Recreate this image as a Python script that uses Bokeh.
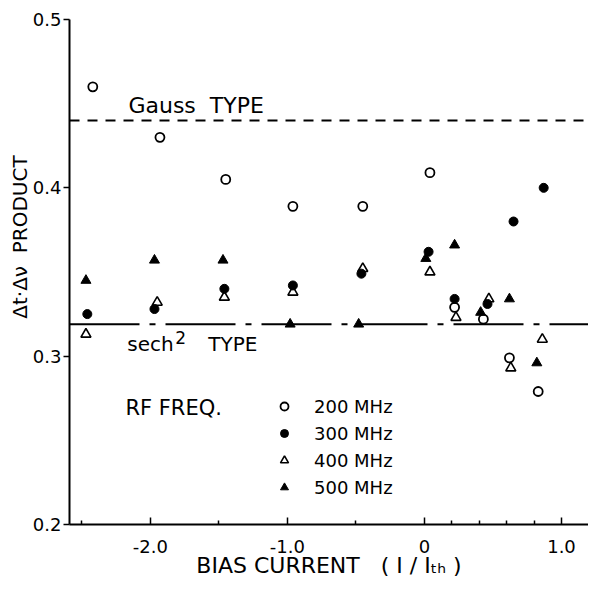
from bokeh.plotting import figure
from bokeh.models import Span, Label, Legend, LegendItem, FixedTicker, Range1d, PrintfTickFormatter
from bokeh.embed import file_html
from bokeh.resources import INLINE

# ---- data ----
x_200 = [-2.42, -1.93, -1.45, -0.96, -0.45, 0.04, 0.22, 0.43, 0.62, 0.83]
y_200 = [0.460, 0.430, 0.405, 0.389, 0.389, 0.409, 0.329, 0.322, 0.299, 0.279]

x_300 = [-2.46, -1.97, -1.46, -0.96, -0.46, 0.03, 0.22, 0.46, 0.65, 0.87]
y_300 = [0.325, 0.328, 0.340, 0.342, 0.349, 0.362, 0.334, 0.331, 0.380, 0.400]

x_400 = [-2.47, -1.95, -1.46, -0.96, -0.45, 0.04, 0.23, 0.47, 0.63, 0.86]
y_400 = [0.313, 0.332, 0.335, 0.338, 0.352, 0.350, 0.323, 0.334, 0.293, 0.310]

x_500 = [-2.47, -1.97, -1.47, -0.98, -0.48, 0.01, 0.22, 0.41, 0.62, 0.82]
y_500 = [0.345, 0.357, 0.357, 0.319, 0.319, 0.358, 0.366, 0.326, 0.334, 0.296]

series_labels = ["200 MHz", "300 MHz", "400 MHz", "500 MHz"]

gauss_level = 0.440
sech_level = 0.319

x_major_ticks = [-2, -1, 0, 1]
x_minor_ticks = [-2.5, -1.5, -0.5, 0.2, 0.4, 0.6, 0.8]
y_major_ticks = [0.2, 0.3, 0.4, 0.5]

FONT = "DejaVu Sans"
NB = "\u00a0"

p = figure(width=588, height=588,
           x_range=Range1d(-2.59, 1.197), y_range=Range1d(0.2, 0.5),
           toolbar_location=None, output_backend="svg",
           min_border_left=69, min_border_right=0, min_border_top=19, min_border_bottom=64)
p.outline_line_color = None
p.grid.visible = False
p.background_fill_color = "white"
p.border_fill_color = "white"

# x axis
xa = p.xaxis[0]
xa.ticker = FixedTicker(ticks=x_major_ticks, minor_ticks=x_minor_ticks)
xa.formatter = PrintfTickFormatter(format="%.1f")
xa.major_label_overrides = {0: "0"}
xa.major_tick_in = 7
xa.major_tick_out = 0
xa.minor_tick_in = 4
xa.minor_tick_out = 0
xa.axis_line_width = 2
xa.major_tick_line_width = 1.5
xa.minor_tick_line_width = 1.5
xa.major_label_standoff = 15
xa.major_label_text_font = FONT
xa.major_label_text_font_size = "18px"
xa.major_label_text_color = "black"
xa.axis_label = "BIAS" + NB + "CURRENT" + NB * 3 + "(" + NB + "I" + NB + "/" + NB + "I\u209c\u2095" + NB + ")"
xa.axis_label_standoff = -3
xa.axis_label_text_font = FONT
xa.axis_label_text_font_size = "22px"
xa.axis_label_text_font_style = "normal"
xa.axis_label_text_color = "black"

# y axis
ya = p.yaxis[0]
ya.ticker = FixedTicker(ticks=y_major_ticks, minor_ticks=[])
ya.formatter = PrintfTickFormatter(format="%.1f")
ya.major_tick_in = 0
ya.major_tick_out = 6
ya.axis_line_width = 2
ya.major_tick_line_width = 1.5
ya.major_label_standoff = 2
ya.major_label_text_font = FONT
ya.major_label_text_font_size = "18px"
ya.major_label_text_color = "black"
ya.axis_label = NB * 11 + "\u0394t\u00b7\u0394\u03bd" + NB * 2 + "PRODUCT"
ya.axis_label_standoff = -2
ya.axis_label_text_font = FONT
ya.axis_label_text_font_size = "20px"
ya.axis_label_text_font_style = "normal"
ya.axis_label_text_color = "black"

# reference levels
p.add_layout(Span(location=gauss_level, dimension="width", line_color="black",
                  line_width=2, line_dash="10 8"))
p.add_layout(Span(location=sech_level, dimension="width", line_color="black",
                  line_width=2, line_dash="70 10 6 10"))

# data points
r200 = p.scatter(x_200, y_200, marker="circle", size=9, fill_color="white",
                 line_color="black", line_width=1.8)
r400 = p.scatter(x_400, y_400, marker="triangle", size=10, fill_color="white",
                 line_color="black", line_width=1.6)
r300 = p.scatter(x_300, y_300, marker="circle", size=9, fill_color="black",
                 line_color="black")
r500 = p.scatter(x_500, y_500, marker="triangle", size=10, fill_color="black",
                 line_color="black")

legend = Legend(items=[LegendItem(label=series_labels[0], renderers=[r200]),
                       LegendItem(label=series_labels[1], renderers=[r300]),
                       LegendItem(label=series_labels[2], renderers=[r400]),
                       LegendItem(label=series_labels[3], renderers=[r500])],
                location=(205, 26), glyph_width=20, glyph_height=22,
                label_standoff=20, padding=0, margin=0, spacing=5,
                background_fill_alpha=0, border_line_color=None,
                label_text_font=FONT, label_text_font_size="18px",
                label_text_color="black", label_height=22)
p.add_layout(legend)


def lab(x, y, text, size, **kw):
    p.add_layout(Label(x=x, y=y, text=text, text_font=FONT, text_font_size=size,
                       text_color="black", **kw))


lab(-2.16, 0.4489, "Gauss" + NB * 2 + "TYPE", "22px", text_baseline="alphabetic")
lab(-2.168, 0.3071, "sech", "20px", text_baseline="alphabetic")
lab(-1.818, 0.3113, "2", "17px", text_baseline="alphabetic")
lab(-1.577, 0.3071, "TYPE", "20px", text_baseline="alphabetic")
lab(-2.182, 0.2695, "RF FREQ.", "21px", text_baseline="alphabetic")

open("out.html", "w").write(file_html(p, INLINE))
